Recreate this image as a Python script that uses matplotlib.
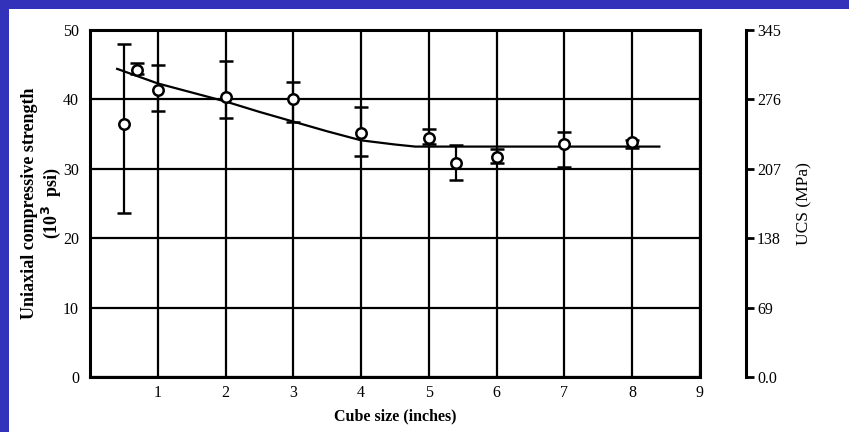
import matplotlib.pyplot as plt
import matplotlib.patches as patches
from matplotlib.ticker import FixedLocator, FixedFormatter

# ____________________________________________________________
# data
cube_size = [0.5, 0.7, 1.0, 2.0, 3.0, 4.0, 5.0, 5.4, 6.0, 7.0, 8.0]
ucs_mean = [36.4, 44.2, 41.3, 40.3, 40.1, 35.2, 34.5, 30.9, 31.7, 33.6, 33.8]
err_hi = [48.0, 45.3, 45.0, 45.5, 42.5, 38.9, 35.8, 33.5, 32.9, 35.3, 34.2]
err_lo = [23.7, 43.6, 38.3, 37.3, 36.8, 31.8, 33.6, 28.4, 30.8, 30.3, 33.0]

fit_x = [0.4, 1.0, 1.5, 2.0, 2.5, 3.0, 3.5, 4.0, 4.5, 4.8, 5.0, 8.4]
fit_y = [44.4, 42.3, 41.0, 39.7, 38.2, 36.8, 35.4, 34.1, 33.5, 33.2, 33.2, 33.2]

x_ticks = [1, 2, 3, 4, 5, 6, 7, 8, 9]
y_ticks = [0, 10, 20, 30, 40, 50]
mpa_labels = ["0.0", "69", "138", "207", "276", "345"]

# ____________________________________________________________
plt.rcParams['font.family'] = ['Liberation Serif', 'DejaVu Serif']

fig = plt.figure(figsize=(8.49, 4.32), dpi=100)
fig.patch.set_facecolor('#3232bb')
# white slide area (blue strip only at top and left)
fig.patches.append(patches.Rectangle((9 / 849, 0), 1, 1 - 9 / 432,
                                     transform=fig.transFigure,
                                     facecolor='white', edgecolor='none', zorder=-5))

ax = fig.add_axes([90 / 849, 55 / 432, 610 / 849, 347 / 432])
ax.set_xlim(0, 9)
ax.set_ylim(0, 50)
ax.xaxis.set_major_locator(FixedLocator(x_ticks))
ax.yaxis.set_major_locator(FixedLocator(y_ticks))
ax.grid(True, color='black', lw=1.6)
ax.set_axisbelow(True)
ax.tick_params(length=0, labelsize=11.5, pad=6)
ax.tick_params(axis='y', pad=8)
for s in ax.spines.values():
    s.set_linewidth(2.2)

ax.plot(fit_x, fit_y, color='black', lw=1.6, zorder=3)

lo = [m - l for m, l in zip(ucs_mean, err_lo)]
hi = [h - m for m, h in zip(ucs_mean, err_hi)]
ax.errorbar(cube_size, ucs_mean, yerr=[lo, hi], fmt='o', color='black',
            ecolor='black', elinewidth=1.6, capsize=5, capthick=1.8,
            markerfacecolor='white', markeredgecolor='black',
            markersize=7.5, markeredgewidth=1.8, zorder=4)

ax.set_xlabel('Cube size (inches)', fontsize=11.5, fontweight='bold', labelpad=5)
ax.set_ylabel('Uniaxial compressive strength\n(10$^{\\mathbf{3}}$  psi)',
              fontsize=13, fontweight='bold', linespacing=1.1)
ax.yaxis.set_label_coords(-27 / 610, 0.5)

# second axis in MPa
ax2 = ax.twinx()
ax2.set_ylim(0, 50)
ax2.spines['right'].set_position(('outward', 33))
ax2.spines['right'].set_linewidth(2.2)
for side in ['left', 'top', 'bottom']:
    ax2.spines[side].set_visible(False)
ax2.yaxis.set_major_locator(FixedLocator(y_ticks))
ax2.yaxis.set_major_formatter(FixedFormatter(mpa_labels))
ax2.tick_params(axis='y', length=6, width=2, labelsize=11.5, pad=2)
ax2.set_ylabel('UCS (MPa)', fontsize=12.5, labelpad=11)

fig.savefig('out.png', dpi=100, facecolor=fig.get_facecolor())
